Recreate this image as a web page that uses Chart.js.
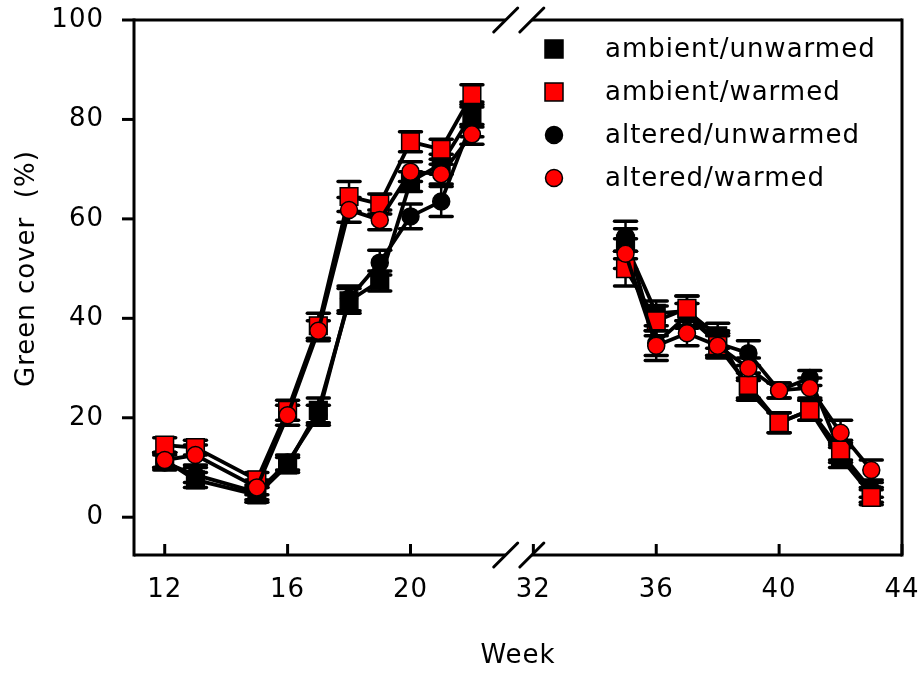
<!DOCTYPE html>
<html><head><meta charset="utf-8">
<script src="https://cdn.jsdelivr.net/npm/chart.js@4/dist/chart.umd.min.js"></script>
<style>html,body{margin:0;padding:0;background:#fff}</style>
</head><body>
<canvas id="c" width="920" height="673"></canvas>
<script>
// ---- data ----
const weeks = [12,13,15,16,17,18,19,20,21,22,35,36,37,38,39,40,41,42,43];
const tickWeeks = [12,16,20,32,36,40,44];
const yTickValues = [0,20,40,60,80,100];
const seriesLabels = ['ambient/unwarmed','ambient/warmed','altered/unwarmed','altered/warmed'];
const xTitle = 'Week';
const yTitle = 'Green cover  (%)';

const ambientUnwarmed = [11.5,7.5,4.5,10.5,21.5,43.5,47.5,67.5,71,81, 55,41,41.5,36.5,25.5,19,21.5,12,4.5];
const ambientWarmed   = [14.5,14,7.5,21.5,38.5,64.5,63,75.5,74,85, 50,39.5,42,34.5,26.5,19,21.5,13.5,4];
const alteredUnwarmed = [11,8.5,5,11,20.5,44,51.2,60.5,63.5,79.5, 56.5,35,40.5,35,33,25.5,28,13,5.5];
const alteredWarmed   = [11.5,12.5,6,20.5,37.5,61.8,59.8,69.5,69,77, 53,34.5,37,34.5,30,25.5,26,17,9.5];

const errAmbientUnwarmed = [1.5,1.5,1.5,1.5,2.5,2.5,2,2,2,2.5, 3,2.5,3,2.5,2,2,2,2,1.5];
const errAmbientWarmed   = [1.5,1.5,1.5,2,2.5,3,2,2,2,2, 3.5,3,2.5,2.5,2.5,2,2,2,1.5];
const errAlteredUnwarmed = [1.5,1.5,1.5,1.5,2,2.5,2.5,2.5,3,3, 3,2.5,2.5,2.5,2.5,1.5,1.5,2,1.5];
const errAlteredWarmed   = [1.5,2,1.5,2,2,2.5,2,2,2,2, 3,3,2.5,2,2,1.5,2,2.5,2];

// broken axis: weeks after the gap are shifted left
const BREAK_SHIFT = 8;
const mapWeek = w => (w >= 28 ? w - BREAK_SHIFT : w);
const breakMarks = [23.1, 23.95];

function toPoints(vals){
  const pts = [];
  for (let i = 0; i < weeks.length; i++){
    if (i > 0 && weeks[i] - weeks[i-1] > 4) pts.push({x: 23.5, y: null});
    pts.push({x: mapWeek(weeks[i]), y: vals[i]});
  }
  return pts;
}

const FONT = 'DejaVu Sans';
const FSIZE = 26;
const LSPACE = '1px';
Chart.defaults.font.family = FONT;
Chart.defaults.font.size = FSIZE;
Chart.defaults.color = '#000';

function mkDs(label, vals, err, fill, style, radius, order){
  return {
    label, data: toPoints(vals), srcY: vals, err,
    borderColor: '#000', borderWidth: 3.8,
    pointStyle: style, pointRadius: radius, pointHoverRadius: radius,
    pointBackgroundColor: fill, pointBorderColor: '#000', pointBorderWidth: 1.5,
    spanGaps: false, order, tension: 0
  };
}

function seg(ctx,x1,y1,x2,y2){ ctx.beginPath(); ctx.moveTo(x1,y1); ctx.lineTo(x2,y2); ctx.stroke(); }

const decor = {
  id: 'decor',
  beforeDraw(chart){ chart.ctx.letterSpacing = LSPACE; },
  beforeDatasetsDraw(chart){
    const {ctx, scales:{x, y}} = chart;
    ctx.save();
    ctx.strokeStyle = '#000';
    chart.data.datasets.forEach(ds => {
      ds.srcY.forEach((v, j) => {
        const px = x.getPixelForValue(mapWeek(weeks[j]));
        const y1 = y.getPixelForValue(v + ds.err[j]);
        const y2 = y.getPixelForValue(v - ds.err[j]);
        ctx.lineCap = 'butt'; ctx.lineWidth = 2.5; seg(ctx, px, y1, px, y2);
        ctx.lineCap = 'round'; ctx.lineWidth = 3.5;
        seg(ctx, px-11, y1, px+11, y1); seg(ctx, px-11, y2, px+11, y2);
      });
    });
    ctx.restore();
  },
  afterDraw(chart){
    const {ctx, chartArea:{left:L, right:R, top:T, bottom:B}, scales:{x, y}} = chart;
    ctx.save();
    ctx.strokeStyle = '#000'; ctx.lineWidth = 3; ctx.lineCap = 'butt';
    const b1 = x.getPixelForValue(breakMarks[0]);
    const b2 = x.getPixelForValue(breakMarks[1]);
    seg(ctx, L, T-1.5, L, B+1.5);
    seg(ctx, R, T-1.5, R, B+1.5);
    [T, B].forEach(by => {
      seg(ctx, L, by, b1, by);
      seg(ctx, b2, by, R, by);
      ctx.lineCap = 'round';
      [b1, b2].forEach(bx => seg(ctx, bx-12, by+12, bx+12, by-12));
      ctx.lineCap = 'butt';
    });
    yTickValues.forEach(v => { const py = y.getPixelForValue(v); seg(ctx, L-12, py, L, py); });
    tickWeeks.forEach(w => { const px = x.getPixelForValue(mapWeek(w)); seg(ctx, px, B, px, B-11); });

    ctx.font = FSIZE + 'px "' + FONT + '"';
    ctx.letterSpacing = LSPACE;
    ctx.fillStyle = '#000';
    // y-axis title, centred on the 0..100 span
    ctx.save();
    const ty = (y.getPixelForValue(yTickValues[0]) + y.getPixelForValue(yTickValues[yTickValues.length-1])) / 2;
    ctx.translate(27, ty);
    ctx.rotate(-Math.PI/2);
    ctx.textAlign = 'center'; ctx.textBaseline = 'middle';
    ctx.fillText(yTitle, 0, 0);
    ctx.restore();

    // legend
    ctx.textBaseline = 'middle'; ctx.textAlign = 'left';
    chart.data.datasets.forEach((ds, i) => {
      const cy = T + 29 + i * 43;
      const mx = R - 348;
      ctx.fillStyle = ds.pointBackgroundColor;
      ctx.lineWidth = 1.5; ctx.strokeStyle = '#000';
      ctx.beginPath();
      if (ds.pointStyle === 'rect') ctx.rect(mx-9, cy-9, 18, 18);
      else ctx.arc(mx, cy, 8.5, 0, Math.PI*2);
      ctx.fill(); ctx.stroke();
      ctx.fillStyle = '#000';
      ctx.fillText(ds.label, R - 297, cy + 1);
    });
    ctx.restore();
  }
};

new Chart(document.getElementById('c'), {
  type: 'line',
  data: {
    datasets: [
      mkDs(seriesLabels[0], ambientUnwarmed, errAmbientUnwarmed, '#000', 'rect', 12.5, 3),
      mkDs(seriesLabels[1], ambientWarmed,   errAmbientWarmed,   '#ff0000', 'rect', 12.5, 1),
      mkDs(seriesLabels[2], alteredUnwarmed, errAlteredUnwarmed, '#000', 'circle', 8.5, 2),
      mkDs(seriesLabels[3], alteredWarmed,   errAlteredWarmed,   '#ff0000', 'circle', 8.5, 0)
    ]
  },
  options: {
    responsive: false, animation: false,
    layout: { padding: { top: 20, right: 18, left: 0, bottom: 0 } },
    plugins: { legend: { display: false }, tooltip: { enabled: false } },
    scales: {
      x: {
        type: 'linear', min: 11, max: 36,
        afterBuildTicks: s => { s.ticks = tickWeeks.map(w => ({ value: mapWeek(w) })); },
        afterFit: s => { s.height = 118; s.paddingLeft = 0; s.paddingRight = 0; },
        ticks: {
          autoSkip: false, maxRotation: 0, padding: 20,
          callback: v => { const w = tickWeeks.find(t => mapWeek(t) === v); return w === undefined ? '' : String(w); }
        },
        grid: { display: false, drawTicks: false },
        border: { display: false },
        title: { display: true, text: xTitle, padding: { top: 0, bottom: 1 } }
      },
      y: {
        min: -7.6, max: 100,
        afterBuildTicks: s => { s.ticks = yTickValues.map(v => ({ value: v })); },
        afterFit: s => { s.width = 134; s.paddingTop = 0; s.paddingBottom = 0; },
        ticks: { padding: 30 },
        grid: { display: false, drawTicks: false },
        border: { display: false },
        title: { display: false }
      }
    }
  },
  plugins: [decor]
});
</script>
</body></html>
